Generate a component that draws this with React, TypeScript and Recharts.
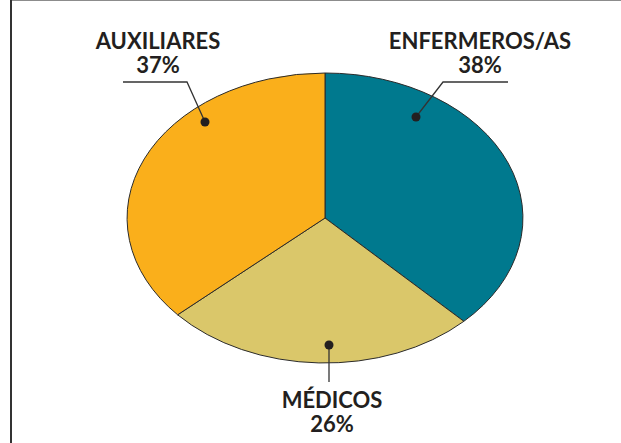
import { PieChart, Pie, Cell } from "recharts";

const categories = ["ENFERMEROS/AS", "MÉDICOS", "AUXILIARES"];
const shares = [38, 26, 37];
const colors = ["#00798e", "#dac76a", "#faaf1b"];

// posición de cada rótulo respecto al centro de la elipse
const labelLayout = [
  { dot: [91, -101], elbow: [118, -136], end: [183, -136], text: [155, -169] },
  { dot: [4, 127], elbow: [4, 164], end: [4, 164], text: [7, 190] },
  { dot: [-120, -96], elbow: [-138, -136], end: [-202, -136], text: [-167, -169] },
];

const data = categories.map((name, i) => ({ name, value: shares[i] }));

const ASPECT = 1.365;
const RAD = Math.PI / 180;
const INK = "#231f20";

const EllipseSector = (props: any) => {
  const { cx, cy, outerRadius, startAngle, endAngle, fill } = props;
  const rx = outerRadius * ASPECT;
  const ry = outerRadius;
  const pt = (a: number) => [cx + rx * Math.cos(a * RAD), cy - ry * Math.sin(a * RAD)];
  const [x1, y1] = pt(startAngle);
  const [x2, y2] = pt(endAngle);
  const large = Math.abs(endAngle - startAngle) > 180 ? 1 : 0;
  const sweep = endAngle < startAngle ? 1 : 0;
  const d = `M${cx},${cy} L${x1},${y1} A${rx},${ry} 0 ${large} ${sweep} ${x2},${y2} Z`;
  return <path d={d} fill={fill} stroke="#2b2b2b" strokeWidth={1} />;
};

const renderLabel = (props: any) => {
  const { cx, cy, index } = props;
  const l = labelLayout[index];
  const [dx, dy] = l.dot;
  const [ex, ey] = l.elbow;
  const [fx, fy] = l.end;
  const [tx, ty] = l.text;
  return (
    <g>
      <polyline
        points={`${cx + dx},${cy + dy} ${cx + ex},${cy + ey} ${cx + fx},${cy + fy}`}
        fill="none"
        stroke="#333"
        strokeWidth={1.3}
      />
      <circle cx={cx + dx} cy={cy + dy} r={4.5} fill={INK} />
      <text
        x={cx + tx}
        y={cy + ty}
        textAnchor="middle"
        fill={INK}
        fontSize={22}
        fontWeight={700}
        fontFamily="Lato, 'Open Sans', sans-serif"
      >
        <tspan x={cx + tx}>{categories[index]}</tspan>
        <tspan x={cx + tx} dy={24}>{`${shares[index]}%`}</tspan>
      </text>
    </g>
  );
};

export default function App() {
  return (
    <div style={{ position: "absolute", left: 0, top: 0, width: 621, height: 443, background: "#fff" }}>
      <div style={{ position: "absolute", left: 10, top: 0, right: 0, height: 1, background: "#8c8c8c" }} />
      <div style={{ position: "absolute", left: 10, top: 0, width: 2, height: 443, background: "#333" }} />
      <PieChart width={621} height={443}>
        <Pie
          data={data}
          dataKey="value"
          cx={320}
          cy={213}
          outerRadius={145}
          startAngle={90}
          endAngle={-270}
          shape={EllipseSector}
          label={renderLabel}
          labelLine={false}
          isAnimationActive={false}
        >
          {data.map((d, i) => (
            <Cell key={d.name} fill={colors[i]} />
          ))}
        </Pie>
      </PieChart>
    </div>
  );
}
